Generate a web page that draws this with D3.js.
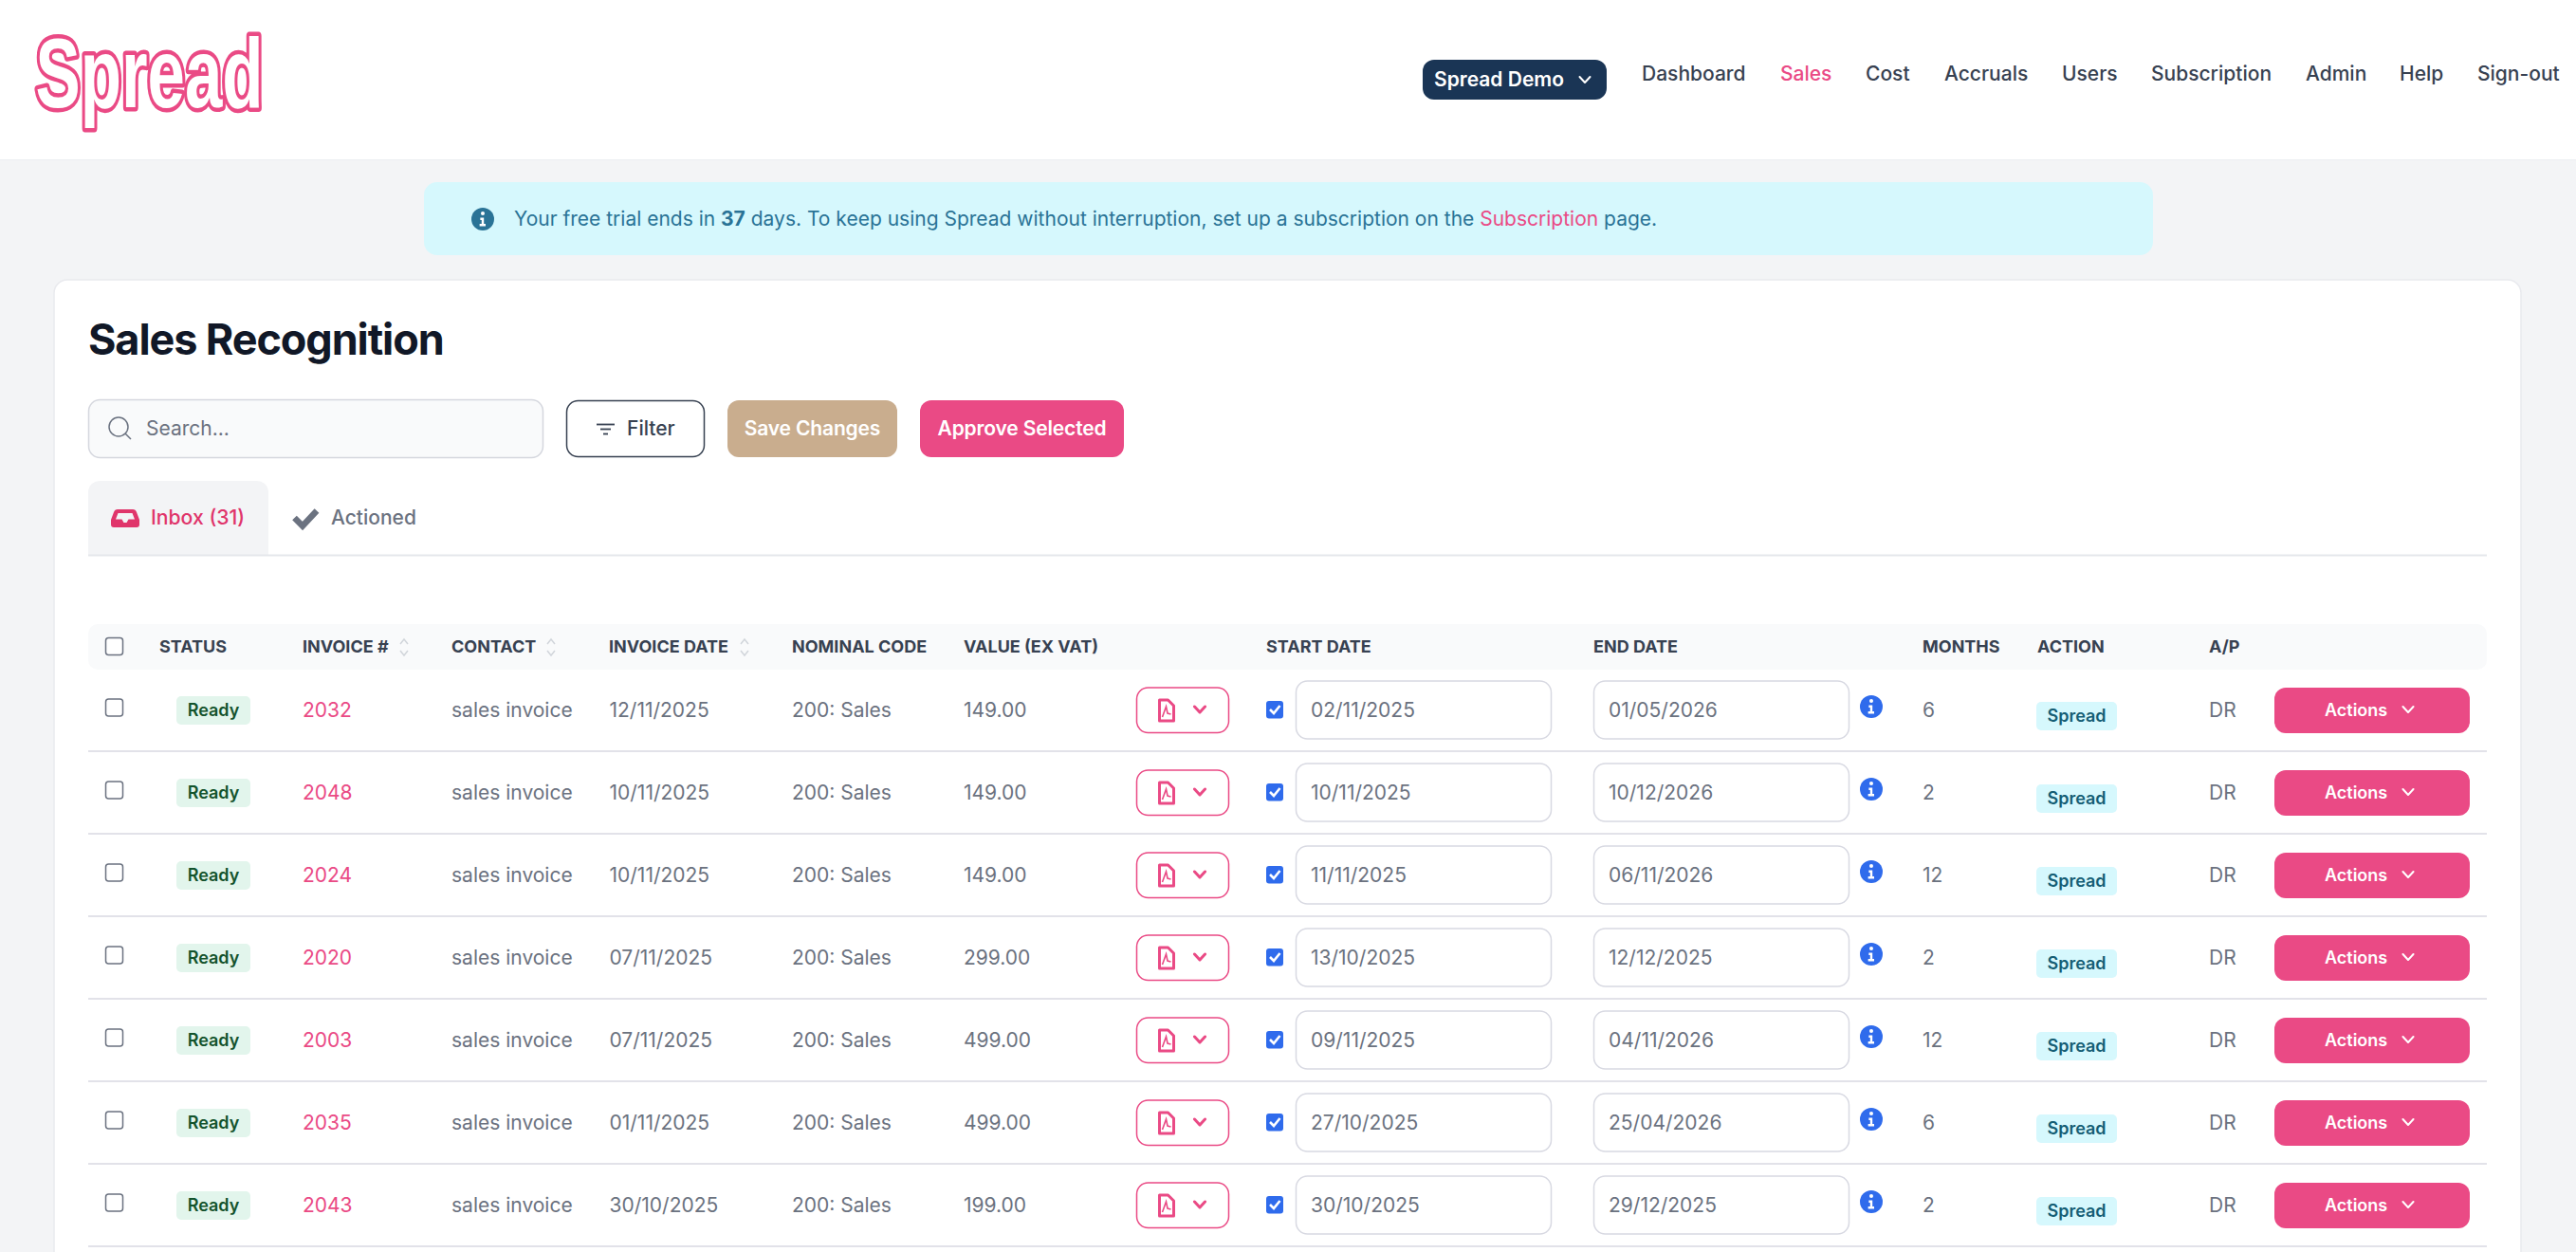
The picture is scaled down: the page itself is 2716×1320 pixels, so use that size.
<!DOCTYPE html>
<html><head><meta charset="utf-8">
<script src="https://cdn.jsdelivr.net/npm/d3@7/dist/d3.min.js"></script>
<style>
html,body{margin:0;padding:0;background:#f3f4f6;overflow:hidden}
svg{display:block}
text{font-family:Inter,"Noto Sans",sans-serif;dominant-baseline:central}
</style></head><body><svg id="c" width="2716" height="1320"></svg>
<script>
const navLabels=["Dashboard","Sales","Cost","Accruals","Users","Subscription","Admin","Help","Sign-out"];
const navX=[1731,1877,1967,2050,2174,2268,2431,2530,2612];
const headers=["STATUS","INVOICE #","CONTACT","INVOICE DATE","NOMINAL CODE","VALUE (EX VAT)","START DATE","END DATE","MONTHS","ACTION","A/P"];
const headerX=[168,319,476,642,835,1016,1335,1680,2027,2148,2329];
const sortableX=[426,581,785];
const invoices=["2032","2048","2024","2020","2003","2035","2043"];
const contacts=["sales invoice","sales invoice","sales invoice","sales invoice","sales invoice","sales invoice","sales invoice"];
const invoiceDates=["12/11/2025","10/11/2025","10/11/2025","07/11/2025","07/11/2025","01/11/2025","30/10/2025"];
const nominalCodes=["200: Sales","200: Sales","200: Sales","200: Sales","200: Sales","200: Sales","200: Sales"];
const values=["149.00","149.00","149.00","299.00","499.00","499.00","199.00"];
const startDates=["02/11/2025","10/11/2025","11/11/2025","13/10/2025","09/11/2025","27/10/2025","30/10/2025"];
const endDates=["01/05/2026","10/12/2026","06/11/2026","12/12/2025","04/11/2026","25/04/2026","29/12/2025"];
const months=["6","2","12","2","12","6","2"];

const PINK="#ea4a85",GREY="#6b7280",DARK="#374151",LINE="#d8d9e2",BLUE="#2f6bec";
const svg=d3.select("#c");
const rowIdx=d3.range(invoices.length);
const yBand=d3.scaleBand().domain(rowIdx).range([706,706+87*invoices.length]);
const yc=i=>yBand(i)+43;
const yt=i=>yc(i)-1;

function rect(x,y,w,h,r,fill,stroke,sw){return svg.append("rect").attr("x",x).attr("y",y).attr("width",w).attr("height",h).attr("rx",r||0).attr("fill",fill||"none").attr("stroke",stroke||"none").attr("stroke-width",sw||0)}
function text(x,y,s,size,fill,weight,anchor){return svg.append("text").attr("x",x).attr("y",y).text(s).attr("font-size",size).attr("fill",fill).attr("font-weight",weight||400).attr("text-anchor",anchor||"start")}
function chevron(g,x,y,c,w,hw){hw=hw||5.5;return g.append("path").attr("d",`M${x-hw} ${y-hw*.55}L${x} ${y+hw*.55}L${x+hw} ${y-hw*.55}`).attr("fill","none").attr("stroke",c).attr("stroke-width",w||2).attr("stroke-linecap","round").attr("stroke-linejoin","round")}
function info(cx,cy,r,c){
  svg.append("circle").attr("cx",cx).attr("cy",cy).attr("r",r).attr("fill",c);
  svg.append("circle").attr("cx",cx).attr("cy",cy-r*.5).attr("r",r*.17).attr("fill","#fff");
  svg.append("path").attr("d",`M${cx-r*.22} ${cy-r*.12}H${cx+r*.1}V${cy+r*.42}H${cx+r*.25}V${cy+r*.62}H${cx-r*.28}V${cy+r*.42}H${cx-r*.1}V${cy+.08*r}H${cx-r*.22}Z`).attr("fill","#fff");
}

/* nav */
rect(0,0,2716,168,0,"#fff");
svg.append("line").attr("x1",0).attr("x2",2716).attr("y1",168.5).attr("y2",168.5).attr("stroke","#eceef1");
const logo=(stroke,sw,fill)=>svg.append("text").attr("x",37.5).attr("y",112.5).style("dominant-baseline","auto")
  .style("font-family","'Liberation Sans Narrow','Liberation Sans',sans-serif").attr("font-weight",700).attr("font-size",104)
  .attr("textLength",240).attr("lengthAdjust","spacingAndGlyphs")
  .attr("stroke",stroke).attr("stroke-width",sw).attr("stroke-linejoin","round").attr("fill",fill).text("Spread");
logo(PINK,9,PINK);
logo("none",0,"#fff");
rect(1500,63,194,42,12,"#1a3555");
text(1512,83,"Spread Demo",21,"#fff",600);
chevron(svg,1671,84,"#fff",2);
svg.selectAll("text.nav").data(navLabels).join("text").attr("class","nav").attr("x",(d,i)=>navX[i]).attr("y",77).text(d=>d)
  .attr("font-size",21).attr("font-weight",500).attr("fill",d=>d==="Sales"?PINK:DARK);

/* banner */
rect(447,192,1823,77,14,"#d6f8fd");
info(509,231,12,"#2a7396");
const bt=text(542,230,"",21,"#2a7396");
bt.append("tspan").text("Your free trial ends in ");
bt.append("tspan").attr("font-weight",700).text("37");
bt.append("tspan").text(" days. To keep using Spread without interruption, set up a subscription on the ");
bt.append("tspan").attr("fill",PINK).text("Subscription");
bt.append("tspan").text(" page.");

/* card */
rect(57,295,2601,1100,14,"#fff","#e9eaee",1.5);
text(93,357,"Sales Recognition",45,"#111827",700).attr("letter-spacing",-1.1);

/* toolbar */
rect(93.5,421.5,479,61,12,"#f9fafb","#d5d7de",1.5);
svg.append("circle").attr("cx",125).attr("cy",450).attr("r",10).attr("fill","none").attr("stroke",GREY).attr("stroke-width",1.5);
svg.append("line").attr("x1",132).attr("y1",457).attr("x2",138).attr("y2",463).attr("stroke",GREY).attr("stroke-width",1.5);
text(154,451,"Search...",21,GREY);
rect(597.5,422.5,145,59,12,"#fff","#374151",1.5);
[[629,648,447.5],[633,644,452.5],[636,641,457.5]].forEach(a=>svg.append("line").attr("x1",a[0]).attr("x2",a[1]).attr("y1",a[2]).attr("y2",a[2]).attr("stroke","#374151").attr("stroke-width",1.8));
text(661,451,"Filter",21,"#374151",500);
rect(767,422,179,60,12,"#c9ad8e");
text(856.5,451,"Save Changes",21,"#fff",600,"middle").attr("letter-spacing",-.15);
rect(970,422,215,60,12,PINK);
text(1077.5,451,"Approve Selected",21,"#fff",600,"middle").attr("letter-spacing",-.15);

/* tabs */
rect(93,507,190,78,12,"#f3f4f6"); rect(93,540,190,45,0,"#f3f4f6");
svg.append("line").attr("x1",93).attr("x2",2622).attr("y1",585.5).attr("y2",585.5).attr("stroke","#e5e7eb").attr("stroke-width",2);
svg.append("path").attr("d","M124 537H140Q143 537 144 540L147 548V553Q147 556 144 556H120Q117 556 117 553V548L120 540Q121 537 124 537ZM124.5 541L122 547.5H128.5L130.5 551H133.5L135.5 547.5H142L139.5 541Z").attr("fill","#e0356b").attr("fill-rule","evenodd");
text(159,545,"Inbox (31)",21.2,"#e0356b",500);
svg.append("path").attr("d","M310.5 546L319 554.5L334 538.5").attr("fill","none").attr("stroke",GREY).attr("stroke-width",6.5);
text(349,545,"Actioned",21,GREY,500);

/* table head */
rect(93,658,2529,48,10,"#f9fafb");
rect(111.5,672.5,18,18,3,"#fff","#6b7280",1.5);
svg.selectAll("text.h").data(headers).join("text").attr("class","h").attr("x",(d,i)=>headerX[i]).attr("y",681).text(d=>d)
  .attr("font-size",18).attr("font-weight",700).attr("fill",DARK);
sortableX.forEach(x=>{
  svg.append("path").attr("d",`M${x-4} 679L${x} 674L${x+4} 679M${x-4} 686L${x} 691L${x+4} 686`).attr("fill","none").attr("stroke","#d1d5db").attr("stroke-width",1.5);
});

/* rows */
const rows=svg.selectAll("g.row").data(rowIdx).join("g").attr("class","row");
rows.append("line").attr("x1",93).attr("x2",2622).attr("y1",i=>yBand(i)+86).attr("y2",i=>yBand(i)+86).attr("stroke",LINE).attr("stroke-width",1.5);
rows.append("rect").attr("x",111.5).attr("y",i=>yc(i)-12).attr("width",18).attr("height",18).attr("rx",3).attr("fill","#fff").attr("stroke",GREY).attr("stroke-width",1.5);
rows.append("rect").attr("x",186).attr("y",i=>yc(i)-15).attr("width",78).attr("height",30).attr("rx",5).attr("fill","#e2f5ec");
rows.append("text").attr("x",225).attr("y",yt).attr("text-anchor","middle").text("Ready").attr("font-size",18).attr("font-weight",600).attr("fill","#14532d");
const cell=(x,arr,fill,w)=>rows.append("text").attr("x",x).attr("y",yt).text(i=>arr[i]).attr("font-size",21).attr("fill",fill||GREY).attr("font-weight",w||400);
cell(319,invoices,PINK);
cell(476,contacts);
cell(642.5,invoiceDates);
cell(835,nominalCodes);
cell(1016,values);
/* pdf button */
rows.append("rect").attr("x",1198.5).attr("y",i=>yc(i)-24).attr("width",97).attr("height",47.5).attr("rx",12).attr("fill","#fff").attr("stroke",PINK).attr("stroke-width",1.5);
rows.append("path").attr("d",i=>{const y=yc(i)-11,x=1222.5;return `M${x} ${y}H${x+9}L${x+15} ${y+6}V${y+22}H${x}Z`}).attr("fill","none").attr("stroke",PINK).attr("stroke-width",3).attr("stroke-linejoin","round");
rows.append("path").attr("d",i=>{const y=yc(i)-11,x=1222.5;return `M${x+3} ${y+18}L${x+7} ${y+7}L${x+8.5} ${y+14}L${x+12} ${y+15}`}).attr("fill","none").attr("stroke",PINK).attr("stroke-width",1.6);
rows.each(function(i){chevron(d3.select(this),1265,yc(i)-1,PINK,3,5.5)});
/* blue checkbox */
rows.append("rect").attr("x",1335).attr("y",i=>yc(i)-10).attr("width",18).attr("height",18.5).attr("rx",3).attr("fill",BLUE);
rows.append("path").attr("d",i=>`M1339 ${yc(i)-1}L1343 ${yc(i)+3}L1349.5 ${yc(i)-5}`).attr("fill","none").attr("stroke","#fff").attr("stroke-width",2.6);
/* inputs */
[1366,1680].forEach((x,k)=>{
  rows.append("rect").attr("x",x+.5).attr("y",i=>yc(i)-31).attr("width",269).attr("height",61).attr("rx",12).attr("fill","#fff").attr("stroke",LINE).attr("stroke-width",1.5);
  cell(x+16,k?endDates:startDates);
});
rows.each(function(i){info(1973,yc(i)-4,12,BLUE)});
cell(2027,months);
/* spread badge */
rows.append("rect").attr("x",2147).attr("y",i=>yc(i)-9).attr("width",85).attr("height",30).attr("rx",5).attr("fill","#d6f8fd");
rows.append("text").attr("x",2189.5).attr("y",i=>yc(i)+5).attr("text-anchor","middle").text("Spread").attr("font-size",18).attr("font-weight",600).attr("fill","#155e75");
rows.append("text").attr("x",2329).attr("y",yt).text("DR").attr("font-size",21).attr("fill",GREY);
/* actions */
rows.append("rect").attr("x",2398).attr("y",i=>yc(i)-24).attr("width",206).attr("height",48).attr("rx",12).attr("fill",PINK);
rows.append("text").attr("x",2451).attr("y",yt).text("Actions").attr("font-size",18).attr("font-weight",600).attr("fill","#fff");
rows.each(function(i){chevron(d3.select(this),2539,yc(i)-1,"#fff",2)});
</script></body></html>
